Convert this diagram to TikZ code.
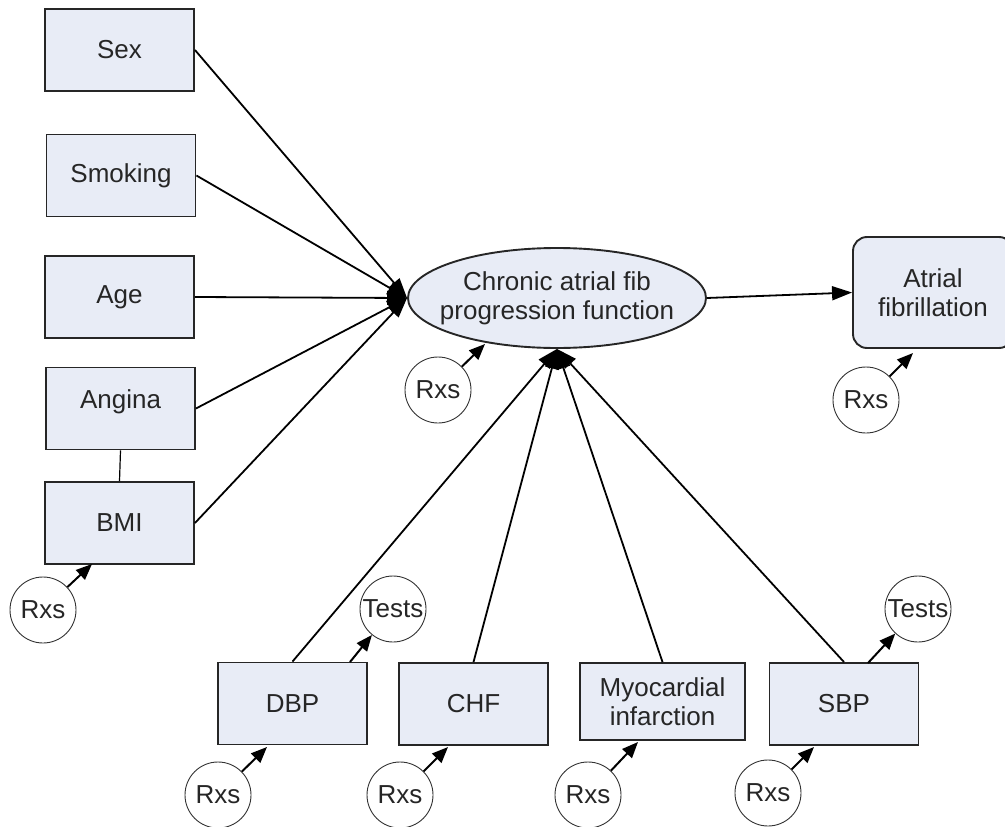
\documentclass[tikz,border=0pt]{standalone}
\usepackage{fontspec}
\setmainfont{Liberation Sans}
\usetikzlibrary{arrows.meta,shapes.geometric}
\definecolor{boxfill}{RGB}{232,236,246}
\definecolor{ink}{RGB}{38,38,38}
\begin{document}
\begin{tikzpicture}[x=1pt,y=-1pt,
  every node/.style={font=\fontsize{26}{29}\selectfont, text=ink, align=center, inner sep=0pt},
  factor/.style={draw=black!85, line width=1.9pt, fill=boxfill, minimum width=149pt, minimum height=82pt},
  outcome/.style={factor, rounded corners=14pt, minimum width=160pt, minimum height=111pt},
  process/.style={ellipse, draw=black!85, line width=1.9pt, fill=boxfill, minimum width=298pt, minimum height=100pt},
  bubble/.style={circle, draw=black!80, line width=0.9pt, fill=white, minimum size=66pt},
  link/.style={line width=1.8pt, -{Triangle[length=20pt,width=14pt]}},
  feed/.style={line width=2pt, -{Triangle[length=16pt,width=13pt]}},
  tie/.style={line width=1.2pt}
]
\useasboundingbox (0,0) rectangle (1005,827);
\clip (0,0) rectangle (1005,827);

% risk factors on the left
\node[factor] (sex)     at (119.5,50)  {Sex};
\node[factor] (smoking) at (121,175.5) {Smoking};
\node[factor] (age)     at (119.5,297) {Age};
\node[factor, text height=18pt, text depth=18pt] (angina) at (120.5,408.5) {Angina};
\node[factor] (bmi)     at (119.5,523) {BMI};

% central process and outcome
\node[process] (prog) at (557,298) {};
\node (progtext) at (prog.center) {Chronic atrial fib\\progression function};
\node[outcome] (af) at (933,292.5) {Atrial\\fibrillation};

% measured factors along the bottom
\node[factor] (dbp) at (292.5,703.5) {DBP};
\node[factor] (chf) at (473.5,704) {CHF};
\node[factor, minimum width=165pt, minimum height=77pt] (mi) at (662.5,701.5) {Myocardial\\infarction};
\node[factor] (sbp) at (844,704) {SBP};

% treatment and test bubbles
\node[bubble] (rxbmi)  at (43,610)  {Rxs};
\node[bubble] (rxprog) at (438,390) {Rxs};
\node[bubble] (rxaf)   at (866,400) {Rxs};
\node[bubble] (rxdbp)  at (218,795) {Rxs};
\node[bubble] (rxchf)  at (400,795) {Rxs};
\node[bubble] (rxmi)   at (588,795) {Rxs};
\node[bubble] (rxsbp)  at (768,793) {Rxs};
\node[bubble] (tdbp)   at (393,609) {\makebox[0pt]{Tests}};
\node[bubble] (tsbp)   at (918,609) {\makebox[0pt]{Tests}};

% arrow end points on box edges
\coordinate (bmiin)   at (92,564);
\coordinate (progin)  at (485,344);
\coordinate (afin)    at (913,353);
\coordinate (dbpin)   at (267,747);
\coordinate (chfin)   at (448,747);
\coordinate (miin)    at (638,742);
\coordinate (sbpin)   at (814,747);
\coordinate (dbpout)  at (350,662);
\coordinate (sbpout)  at (868,663);

% factors feeding the progression function
\draw[link] (sex.east) -- (prog.west);
\draw[link] (smoking.east) -- (prog.west);
\draw[link] (age.east) -- (prog.west);
\draw[link] (angina.east) -- (prog.west);
\draw[link] (bmi.east) -- (prog.west);
\draw[link] (dbp.north) -- (prog.south);
\draw[link] (chf.north) -- (prog.south);
\draw[link] (mi.north) -- (prog.south);
\draw[link] (sbp.north) -- (prog.south);
\draw[link] (prog.east) -- (af.west);

\draw[tie] (angina.south) -- (bmi.north);

% treatments and tests
\draw[feed] (rxbmi) -- (bmiin);
\draw[feed] (rxprog) -- (progin);
\draw[feed] (rxaf) -- (afin);
\draw[feed] (rxdbp) -- (dbpin);
\draw[feed] (rxchf) -- (chfin);
\draw[feed] (rxmi) -- (miin);
\draw[feed] (rxsbp) -- (sbpin);
\draw[feed] (dbpout) -- (tdbp);
\draw[feed] (sbpout) -- (tsbp);
\end{tikzpicture}
\end{document}
